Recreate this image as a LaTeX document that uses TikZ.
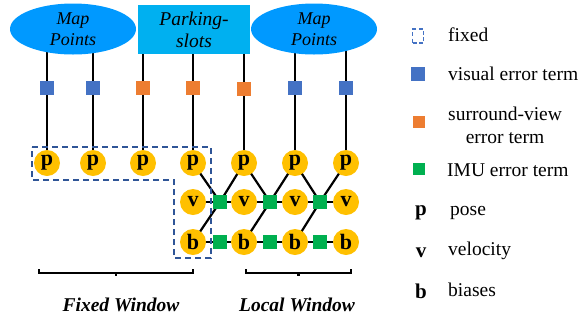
\documentclass[tikz,border=0pt]{standalone}
\usepackage{fontspec}
\setmainfont{Liberation Serif}
\usetikzlibrary{shapes.geometric, backgrounds, calc}

\definecolor{mapblue}{HTML}{0099FF}
\definecolor{slotblue}{HTML}{00B0F0}
\definecolor{visualblue}{HTML}{4472C4}
\definecolor{surroundorange}{HTML}{ED7D31}
\definecolor{imugreen}{HTML}{00B050}
\definecolor{stateyellow}{HTML}{FFC000}
\definecolor{fixedblue}{HTML}{2F5597}

\begin{document}
\begin{tikzpicture}[x=1pt, y=-1pt,
    mappoint/.style={ellipse, fill=mapblue, minimum width=126pt, minimum height=51pt, inner sep=0pt, align=center, font=\fontsize{18}{21}\selectfont\itshape},
    slotbox/.style={rectangle, fill=slotblue, minimum width=112pt, minimum height=49pt, inner sep=0pt, align=center, font=\fontsize{19.5}{22}\selectfont\itshape},
    term/.style={rectangle, minimum size=14pt, inner sep=0pt},
    visualterm/.style={term, fill=visualblue},
    surroundterm/.style={term, fill=surroundorange},
    imuterm/.style={term, fill=imugreen},
    statenode/.style={circle, fill=stateyellow, minimum size=26pt, inner sep=0pt, font=\fontsize{22}{22}\selectfont\bfseries},
    legendtext/.style={anchor=west, inner sep=0pt, align=center, font=\fontsize{19.5}{23}\selectfont},
    link/.style={line width=2.2pt, black},
    fixedline/.style={line width=2.4pt, fixedblue, dash pattern=on 6pt off 4pt}]

    \useasboundingbox (0,0) rectangle (583,325);

    % Landmarks
    \node [mappoint] (mapL) at (73,29) {Map\\Points};
    \node [slotbox] (slots) at (194,29.5) {Parking-\\slots};
    \node [mappoint] (mapR) at (314,29) {Map\\Points};

    % Error terms
    \node [visualterm] (e1) at (47,88) {};
    \node [visualterm] (e2) at (93,88) {};
    \node [surroundterm] (e3) at (143,88) {};
    \node [surroundterm] (e4) at (193,88) {};
    \node [surroundterm] (e5) at (244,89) {};
    \node [visualterm] (e6) at (295,88) {};
    \node [visualterm] (e7) at (346,88) {};

    % States
    \foreach \i/\x in {1/47, 2/93, 3/143, 4/193, 5/244, 6/295, 7/346}
        \node [statenode] (p\i) at (\x,163) {p};
    \foreach \i/\x in {4/193, 5/244, 6/295, 7/346} {
        \node [statenode] (v\i) at (\x,202) {v};
        \node [statenode] (b\i) at (\x,242) {b};
    }

    % IMU terms
    \foreach \i/\x in {4/220, 5/270, 6/320} {
        \node [imuterm] (gv\i) at (\x,202) {};
        \node [imuterm] (gb\i) at (\x,242) {};
    }

    % Connections
    \begin{scope}[on background layer]
        \foreach \i in {1,2}
            \draw [link] (p\i) -- (p\i |- mapL.center);
        \foreach \i in {3,4,5}
            \draw [link] (p\i) -- (p\i |- slots.center);
        \foreach \i in {6,7}
            \draw [link] (p\i) -- (p\i |- mapR.center);
        \foreach \i/\j in {4/5, 5/6, 6/7} {
            \draw [link] (p\i.center) -- (gv\i.center) -- (p\j.center);
            \draw [link] (b\i.center) -- (gv\i.center);
        }
        \draw [link] (v4) -- (v7);
        \draw [link] (b4) -- (b7);
    \end{scope}

    % Fixed window outline
    \coordinate (fixA) at (32,147);
    \coordinate (fixB) at (211,147);
    \coordinate (fixC) at (211,258);
    \coordinate (fixD) at (174,258);
    \coordinate (fixE) at (174,180);
    \coordinate (fixF) at (32,180);
    \draw [fixedline] (fixA) -- (fixB) -- (fixC) -- (fixD) -- (fixE) -- (fixF) -- cycle;

    % Brackets and window names
    \coordinate (fixL) at (39,273);
    \coordinate (fixR) at (193,273);
    \coordinate (locL) at (246,273);
    \coordinate (locR) at (351,273);
    \draw [link] ($(fixL)+(0,-4)$) -- (fixL) -- (fixR) -- ++(0,-4);
    \draw [link] ($(fixL)!0.5!(fixR)$) -- ++(0,3);
    \draw [link] ($(locL)+(0,-4)$) -- (locL) -- (locR) -- ++(0,-4);
    \draw [link] ($(locL)!0.5!(locR)$) -- ++(0,3);
    \node [font=\fontsize{19.5}{21}\selectfont\bfseries\itshape] (fixname) at (121,305) {Fixed Window};
    \node [font=\fontsize{19.5}{21}\selectfont\bfseries\itshape] (locname) at (297,305) {Local Window};

    % Legend
    \node [rectangle, draw=visualblue, line width=1.8pt, dash pattern=on 4pt off 2.5pt, minimum width=11pt, minimum height=14pt, inner sep=0pt] (keyfixed) at (418,36) {};
    \node [visualterm] (keyvisual) at (418,74) {};
    \node [surroundterm, minimum size=12pt] (keysurround) at (419,122) {};
    \node [imuterm, minimum size=12pt] (keyimu) at (419,169) {};
    \node [font=\fontsize{21}{21}\selectfont\bfseries] (keyp) at (421,213) {p};
    \node [font=\fontsize{21}{21}\selectfont\bfseries] (keyv) at (421,253) {v};
    \node [font=\fontsize{21}{21}\selectfont\bfseries] (keyb) at (421,291) {b};
    \node [legendtext] at (448,35) {fixed};
    \node [legendtext] at (448,74) {visual error term};
    \node [legendtext] at (448,125) {surround-view\\error term};
    \node [legendtext] at (447,170) {IMU error term};
    \node [legendtext] at (450,213) {pose};
    \node [legendtext] at (448,251) {velocity};
    \node [legendtext] at (448,290) {biases};

\end{tikzpicture}
\end{document}
